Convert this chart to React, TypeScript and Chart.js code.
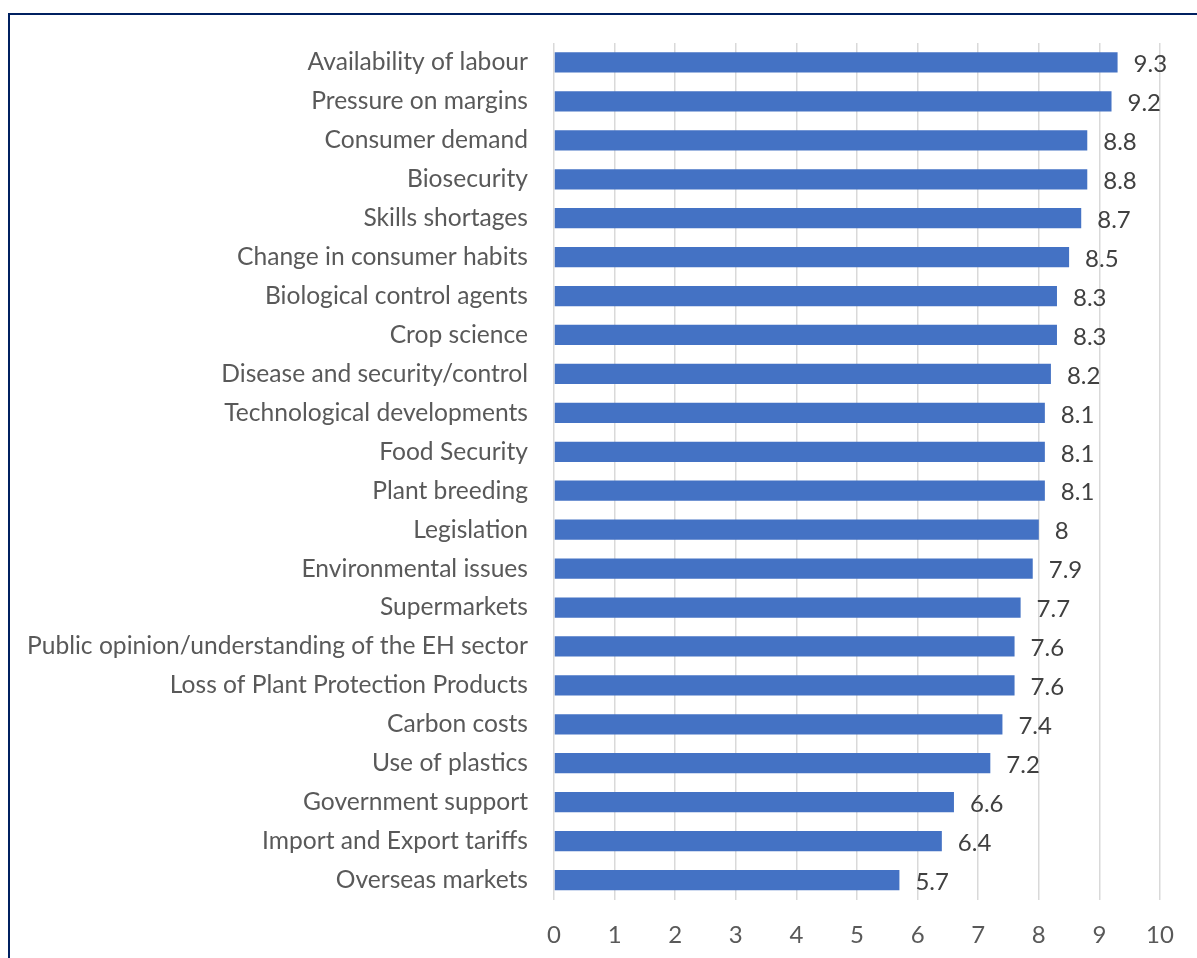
import React, { useEffect, useRef } from "react";
import { Chart, registerables } from "chart.js";

Chart.register(...registerables);

const categories: string[] = [
  "Availability of labour",
  "Pressure on margins",
  "Consumer demand",
  "Biosecurity",
  "Skills shortages",
  "Change in consumer habits",
  "Biological control agents",
  "Crop science",
  "Disease and security/control",
  "Technological developments",
  "Food Security",
  "Plant breeding",
  "Legislation",
  "Environmental issues",
  "Supermarkets",
  "Public opinion/understanding of the EH sector",
  "Loss of Plant Protection Products",
  "Carbon costs",
  "Use of plastics",
  "Government support",
  "Import and Export tariffs",
  "Overseas markets",
];

const scores: number[] = [
  9.3, 9.2, 8.8, 8.8, 8.7, 8.5, 8.3, 8.3, 8.2, 8.1, 8.1, 8.1, 8, 7.9, 7.7, 7.6, 7.6,
  7.4, 7.2, 6.6, 6.4, 5.7,
];

const xTicks: number[] = [0, 1, 2, 3, 4, 5, 6, 7, 8, 9, 10];

const FONT = "Lato, 'Open Sans', sans-serif";

const labelPlugin = {
  id: "barValueLabels",
  afterDatasetsDraw(chart: any) {
    const ctx = chart.ctx;
    const meta = chart.getDatasetMeta(0);
    ctx.save();
    ctx.font = `24px ${FONT}`;
    ctx.fillStyle = "#404040";
    ctx.textAlign = "left";
    ctx.textBaseline = "middle";
    meta.data.forEach((bar: any, i: number) => {
      ctx.fillText(String(scores[i]), bar.x + 16, bar.y + 2);
    });
    ctx.restore();
  },
};

export default function App() {
  const canvasRef = useRef<HTMLCanvasElement | null>(null);

  useEffect(() => {
    if (!canvasRef.current) return;
    const chart = new Chart(canvasRef.current, {
      type: "bar",
      data: {
        labels: categories,
        datasets: [
          {
            data: scores,
            backgroundColor: "#4472C4",
            borderWidth: 0,
            categoryPercentage: 1,
            barPercentage: 0.52,
          },
        ],
      },
      options: {
        indexAxis: "y",
        animation: false,
        responsive: false,
        maintainAspectRatio: false,
        layout: { padding: { left: 0, right: 37, top: 43, bottom: 0 } },
        plugins: {
          legend: { display: false },
          tooltip: { enabled: false },
        },
        scales: {
          x: {
            min: 0,
            max: 10,
            afterBuildTicks: (scale: any) => {
              scale.ticks = xTicks.map((v) => ({ value: v }));
            },
            grid: { color: "#d9d9d9", lineWidth: 1.5, drawTicks: false },
            border: { display: false },
            ticks: {
              color: "#595959",
              font: { family: FONT, size: 24 },
              padding: 21,
            },
            afterFit: (scale: any) => {
              scale.height = 958 - 899.5;
            },
          },
          y: {
            grid: { display: false },
            border: { display: false },
            ticks: {
              color: "#595959",
              font: { family: FONT, size: 24.6 },
              padding: 18,
              autoSkip: false,
            },
            afterFit: (scale: any) => {
              scale.width = 554;
            },
          },
        },
      },
      plugins: [labelPlugin],
    });
    return () => chart.destroy();
  }, []);

  return (
    <div style={{ position: "fixed", left: 0, top: 0, width: 1197, height: 958, background: "#fff", overflow: "hidden" }}>
      <canvas ref={canvasRef} width={1197} height={958} style={{ position: "absolute", left: 0, top: 0 }} />
      <div
        style={{
          position: "absolute",
          left: 8,
          top: 13,
          width: 1300,
          height: 1100,
          border: "2px solid #002060",
          boxSizing: "border-box",
          pointerEvents: "none",
        }}
      />
    </div>
  );
}
